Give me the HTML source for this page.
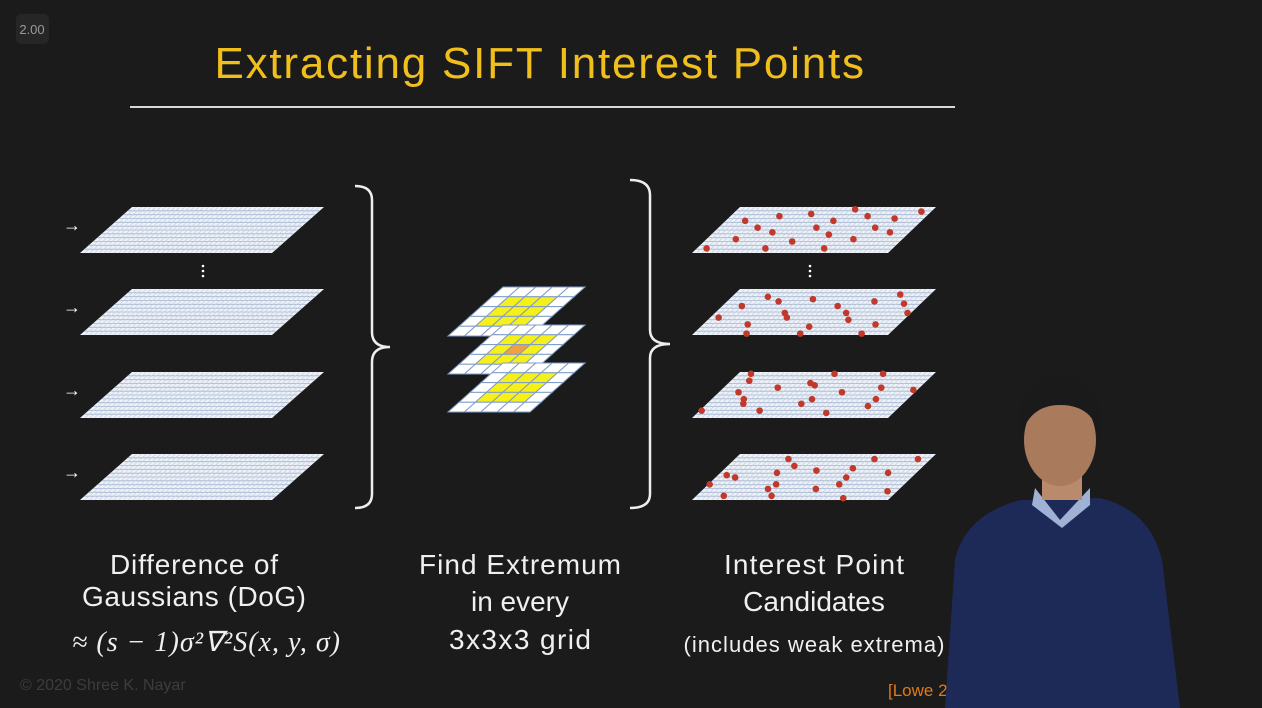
<!DOCTYPE html>
<html><head><meta charset="utf-8"><style>
html,body{margin:0;padding:0;background:#1b1b1b;}
svg{display:block;font-family:"Liberation Sans",sans-serif;}
</style></head><body>
<svg width="1262" height="708" viewBox="0 0 1262 708">
<rect width="1262" height="708" fill="#1b1b1b"/>
<rect x="16" y="14" width="33" height="30" rx="5" fill="#262626"/>
<text x="32" y="34" font-size="13" fill="#9a9a9a" text-anchor="middle">2.00</text>
<text x="540" y="78" font-size="44" fill="#f1bf1c" text-anchor="middle" letter-spacing="1.5" textLength="651">Extracting SIFT Interest Points</text>
<line x1="130" y1="107" x2="955" y2="107" stroke="#d8d8d8" stroke-width="2"/>
<g id="planes"></g>
<g id="mid"></g>
<path d="M355 186 Q372 186 372 200 L372 332 Q372 347 390 347 Q372 347 372 362 L372 494 Q372 508 355 508" fill="none" stroke="#eee" stroke-width="2.5"/>
<path d="M630 180 Q650 180 650 195 L650 330 Q650 344 670 344 Q650 344 650 358 L650 494 Q650 508 630 508" fill="none" stroke="#eee" stroke-width="2.5"/>
<g font-size="28" fill="#f0f0f0" text-anchor="middle">
<text x="194" y="574" textLength="168">Difference of</text>
<text x="194" y="606" textLength="224">Gaussians (DoG)</text>
<text x="206" y="651" font-family="Liberation Serif,serif" font-style="italic" textLength="268">≈ (s − 1)σ²∇²S(x, y, σ)</text>
<text x="520" y="574" textLength="202">Find Extremum</text>
<text x="520" y="611">in every</text>
<text x="520" y="649" textLength="142">3x3x3 grid</text>
<text x="814" y="574" textLength="180">Interest Point</text>
<text x="814" y="611">Candidates</text>
<text x="814" y="652" font-size="22" textLength="261">(includes weak extrema)</text>
</g>
<text x="20" y="690" font-size="16" fill="#3d3d3d">© 2020 Shree K. Nayar</text>
<text x="888" y="696" font-size="17" fill="#e07a1a">[Lowe 2004]</text>
<g>
<path d="M945 708 L955 560 Q965 515 1020 500 L1100 498 Q1150 510 1162 560 L1180 708 Z" fill="#1d2a57"/>
<path d="M1035 488 L1060 520 L1090 488 L1090 505 L1062 528 L1032 505Z" fill="#9fb2d6"/>
<rect x="1042" y="460" width="40" height="40" fill="#b98a6c"/>
<ellipse cx="1060" cy="440" rx="36" ry="46" fill="#a97a5c"/>
<path d="M1020 440 Q1014 378 1060 376 Q1106 378 1100 440 Q1095 405 1060 405 Q1028 405 1020 440Z" fill="#1a1a1a"/>
</g>
<script>
const planeTops=[207,289,372,454];
const dotsU=[[0.1,0.3],[0.25,0.2],[0.4,0.15],[0.55,0.3],[0.7,0.2],[0.85,0.25],[0.15,0.7],[0.3,0.55],[0.45,0.75],[0.6,0.6],[0.75,0.7],[0.9,0.55],[0.2,0.45],[0.5,0.45],[0.8,0.45],[0.35,0.9],[0.65,0.9],[0.05,0.9],[0.95,0.1],[0.6,0.05]];
const NS='http://www.w3.org/2000/svg';
const pg=document.getElementById('planes');
function mk(t,a){const e=document.createElementNS(NS,t);for(const k in a)e.setAttribute(k,a[k]);return e;}
function plane(x0,top,w,h,off,isDots,idx){
  const g=mk('g',{});
  
  
  g.appendChild(mk('polygon',{points:`${x0+off},${top} ${x0+off+w},${top} ${x0+w},${top+h} ${x0},${top+h}`,fill:'#eef2f8'}));
  for(let i=1;i<12;i++){const y=top+h*i/12,s=off*(1-i/12);g.appendChild(mk('line',{x1:x0+s,y1:y,x2:x0+s+w,y2:y,stroke:'#9fb1cc','stroke-width':0.8}));}
  for(let i=1;i<40;i++){const x=x0+w*i/40;g.appendChild(mk('line',{x1:x+off,y1:top,x2:x,y2:top+h,stroke:'#c3cfe0','stroke-width':0.6}));}
  if(isDots){dotsU.forEach((d,k)=>{const u=(d[0]+k*0.013*idx)%1,v=(d[1]+0.07*idx)%1;const c=mk('circle',{cx:x0+off*(1-v)+u*w,cy:top+v*h,r:3.3,fill:'#c0392b'});g.appendChild(c);});}
  pg.appendChild(g);
}
planeTops.forEach((t,i)=>{
  plane(80,t,192,46,52,false,i);
  plane(692,t,196,46,48,true,i);
  const a=mk('text',{x:63,y:t+24,'font-size':18,'font-weight':'bold',fill:'#fff'});a.textContent='→';
  pg.appendChild(a);
});
[203,810].forEach(x=>{for(let k=0;k<3;k++)pg.appendChild(mk('circle',{cx:x,cy:266+k*5,r:1.3,fill:'#fff'}));});
const mg=document.getElementById('mid');
const midTops=[287,325,363];
midTops.forEach((t,l)=>{
  const x0=448,w=82,h=49,off=55;
  const g=mk('g',{});
  for(let r=0;r<5;r++)for(let c=0;c<5;c++){
    const v0=r/5,v1=(r+1)/5,u0=c/5,u1=(c+1)/5;
    const P=(u,v)=>`${x0+off*(1-v)+u*w},${t+v*h}`;
    let f='#ffffff';if(r>0&&r<4&&c>0&&c<4)f=(l==1&&r==2&&c==2)?'#f0a040':'#f5ef1a';
    g.appendChild(mk('polygon',{points:`${P(u0,v0)} ${P(u1,v0)} ${P(u1,v1)} ${P(u0,v1)}`,fill:f,stroke:'#7f9cc8','stroke-width':1}));
  }
  mg.appendChild(g);
});
</script>
</svg>
</body></html>
